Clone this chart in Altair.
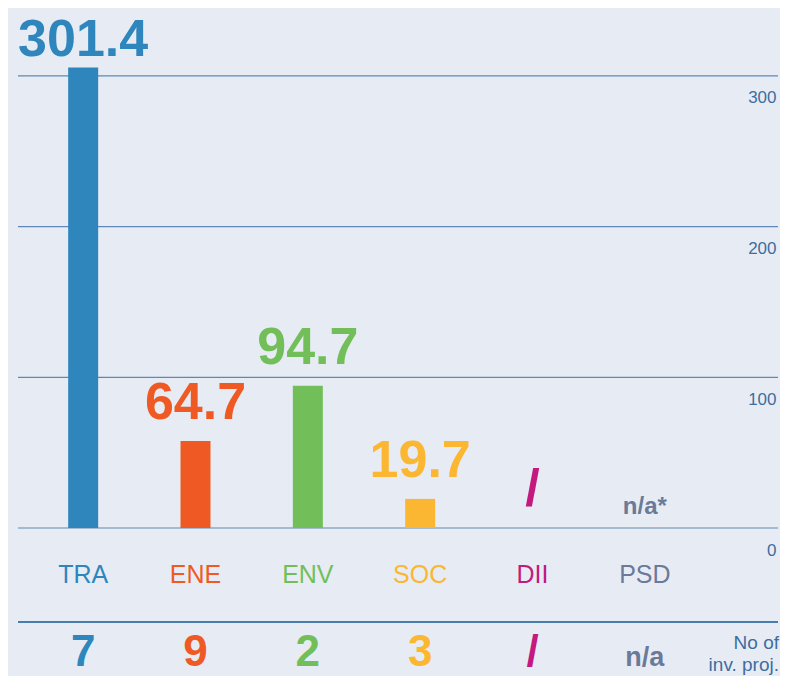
import altair as alt
import pandas as pd

categories = ["TRA", "ENE", "ENV", "SOC", "DII", "PSD"]
bar_values = [305.5, 57.7, 94.3, 19.3, None, None]
value_labels = ["301.4", "64.7", "94.7", "19.7", "/", "n/a*"]
project_counts = ["7", "9", "2", "3", "/", "n/a"]
colors = ["#2e86bd", "#ef5a24", "#72bf5a", "#fbb731", "#c4197f", "#6b7a99"]
y_ticks = [0, 100, 200, 300]
count_caption = ["No of", "inv. proj."]

df = pd.DataFrame({"cat": categories, "value": bar_values,
                   "label": value_labels, "count": project_counts})
grid_df = pd.DataFrame({"tick": y_ticks})

FONT = "Liberation Sans"
W, H = 760, 520

x_enc = alt.X("cat:N", sort=categories,
              scale=alt.Scale(domain=categories, range=[9, 683],
                              paddingInner=0, paddingOuter=0),
              axis=None)
color_enc = alt.Color("cat:N", scale=alt.Scale(domain=categories, range=colors),
                      legend=None)
y_scale = alt.Scale(domain=[0, 345], nice=False, zero=True)
y_axis = alt.Axis(orient="right", values=y_ticks, grid=False, domain=False,
                  ticks=False, tickSize=0,
                  labelAlign="right", labelPadding=-2, labelBaseline="middle",
                  labelOffset=22, labelFontSize=17, labelColor="#3f6d9f",
                  labelFont=FONT, title=None)

grid = alt.Chart(grid_df).mark_rule(color="#5f87b3", strokeWidth=1.2).encode(
    y=alt.Y("tick:Q", scale=y_scale, axis=y_axis),
    x=alt.value(0), x2=alt.value(W))

base = alt.Chart(df).encode(x=x_enc, color=color_enc)

bars = base.mark_bar(size=30).encode(
    y=alt.Y("value:Q", scale=y_scale, axis=y_axis))

labels_top = base.transform_filter("datum.cat == 'TRA'").mark_text(
    font=FONT, fontSize=52, fontWeight="bold", baseline="alphabetic", dy=-12
).encode(y=alt.Y("value:Q", scale=y_scale, axis=y_axis), text="label:N")

labels_big = base.transform_filter(
    "datum.cat != 'PSD' && datum.cat != 'TRA'").transform_calculate(
    ly="isValid(datum.value) ? datum.value : 0"
).mark_text(font=FONT, fontSize=52, fontWeight="bold", baseline="alphabetic",
            dy=-22).encode(y=alt.Y("ly:Q", scale=y_scale, axis=y_axis),
                           text="label:N")

labels_small = base.transform_filter("datum.cat == 'PSD'").transform_calculate(
    ly="isValid(datum.value) ? datum.value : 0"
).mark_text(font=FONT, fontSize=24, fontWeight="bold", baseline="alphabetic",
            dy=-14).encode(y=alt.Y("ly:Q", scale=y_scale, axis=y_axis),
                           text="label:N")

cat_labels = base.mark_text(font=FONT, fontSize=25, baseline="middle").encode(
    y=alt.value(567), text="cat:N")

counts = base.mark_text(font=FONT, fontWeight="bold", baseline="alphabetic").encode(
    y=alt.value(658), text="count:N",
    size=alt.condition("datum.cat == 'PSD'", alt.value(27), alt.value(44)))

one = alt.Chart(pd.DataFrame({"a": [0]}))
sep = one.mark_rule(color="#15589a", strokeWidth=1.5).encode(
    x=alt.value(0), x2=alt.value(W), y=alt.value(614))
caption = one.mark_text(font=FONT, fontSize=19, align="right", baseline="alphabetic",
                        lineHeight=22, color="#3f6d9f").encode(
    x=alt.value(761), y=alt.value(641), text=alt.value(count_caption))

chart = alt.layer(grid, bars, labels_top, labels_big, labels_small, cat_labels,
                  counts, sep, caption).properties(
    width=W, height=H,
    autosize=alt.AutoSizeParams(type="none"),
    padding={"left": 10, "top": 0, "right": 2, "bottom": 148},
    background="#e7ecf4",
).configure_view(stroke=None)

chart.save("out.html", embed_options={"renderer": "svg", "actions": False})
